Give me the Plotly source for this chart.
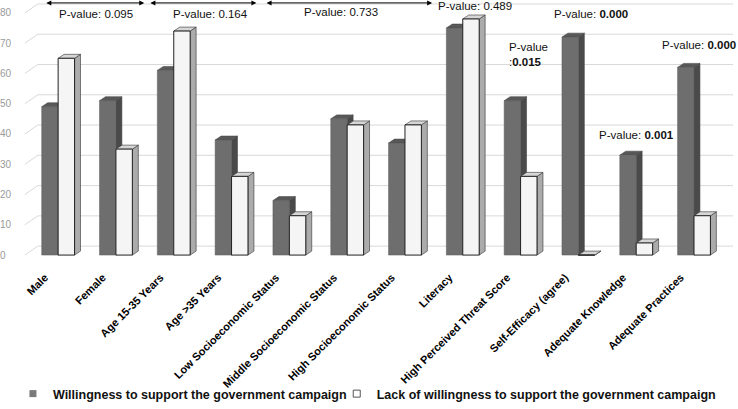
import plotly.graph_objects as go

categories = ["Male", "Female", "Age 15-35 Years", "Age >35 Years",
              "Low Socioeconomic Status", "Middle Socioeconomic Status",
              "High Socioeconomic Status", "Literacy", "High Perceived Threat Score",
              "Self-Efficacy (agree)", "Adequate Knowledge", "Adequate Practices"]
willing = [49, 51, 61, 38, 18, 45, 37, 75, 51, 72, 33, 62]
lack = [65, 35, 74, 26, 13, 43, 43, 78, 26, 0, 4, 13]
y_ticks = [0, 10, 20, 30, 40, 50, 60, 70, 80]

name_w = "Willingness to support the government campaign"
name_l = "Lack of willingness to support the government campaign"

W, H = 738, 409
PX_X = 58.2          # pixels per category
PX_Y = 3.05          # pixels per unit
X0 = -53.5 / PX_X
X1 = X0 + W / PX_X
PLOT_B = 266
Y0 = -(PLOT_B - 257) / PX_Y
Y1 = 257 / PX_Y
BW = 0.284
DX = 6 / PX_X        # depth offset (x)
DY = 4 / PX_Y        # depth offset (y)

x = list(range(len(categories)))
font_fam = "Liberation Sans, Arial, sans-serif"

fig = go.Figure()
fig.add_trace(go.Bar(x=x, y=willing, name=name_w, offset=-BW, width=BW, showlegend=False,
                     marker=dict(color="#6e6e6e", line=dict(color="#5a5a5a", width=0.5))))
fig.add_trace(go.Bar(x=x, y=lack, name=name_l, offset=0, width=BW, showlegend=False,
                     marker=dict(color="#f5f5f5", line=dict(color="#222222", width=1))))
# legend entries with small square keys
fig.add_trace(go.Scatter(x=[None], y=[None], mode="markers", name=name_w, legend="legend",
                         marker=dict(symbol="square", size=7, color="#7a7a7a",
                                     line=dict(color="#7a7a7a", width=0))))
fig.add_trace(go.Scatter(x=[None], y=[None], mode="markers", name=name_l, legend="legend2",
                         marker=dict(symbol="square", size=7, color="#ffffff",
                                     line=dict(color="#555555", width=1))))

shapes = []
gdx_a = 20 / PX_X + X0
gdx_b = 33 / PX_X + X0
gdx_c = 733 / PX_X + X0
for v in y_ticks:
    yb = v + 9 / PX_Y
    shapes.append(dict(type="path", xref="x", yref="y",
                       path=f"M {gdx_a},{v} L {gdx_b},{yb} L {gdx_c},{yb}",
                       line=dict(color="#d9d9d9", width=1), layer="below"))


def prism(xl, xr, v, side, top, edge):
    s = []
    s.append(dict(type="path", xref="x", yref="y",
                  path=f"M {xr},0 L {xr+DX},{DY} L {xr+DX},{v+DY} L {xr},{v} Z",
                  fillcolor=side, line=dict(color=edge, width=0.6), layer="below"))
    s.append(dict(type="path", xref="x", yref="y",
                  path=f"M {xl},{v} L {xl+DX},{v+DY} L {xr+DX},{v+DY} L {xr},{v} Z",
                  fillcolor=top, line=dict(color=edge, width=0.6), layer="below"))
    return s


for i, v in enumerate(willing):
    shapes += prism(i - BW, i, v, "#4a4a4a", "#585858", "#4a4a4a")
for i, v in enumerate(lack):
    shapes += prism(i, i + BW, v, "#ababab", "#d6d6d6", "#333333")

annotations = []
arrow_spans = [(-0.23, 1.49), (1.57, 3.43), (3.58, 6.47)]
for a, b in arrow_spans:
    annotations.append(dict(x=b, y=83.3, ax=a, ay=83.3, xref="x", yref="y",
                            axref="x", ayref="y", text="", showarrow=True,
                            arrowhead=2, arrowside="end+start", arrowsize=1,
                            arrowwidth=1, arrowcolor="#000000"))

pfont = dict(family=font_fam, size=11.5, color="#111111")
p_texts = [
    (0.66, 79.7, "P-value: 0.095", "center"),
    (2.64, 79.7, "P-value: 0.164", "center"),
    (4.9, 80.3, "P-value: 0.733", "center"),
    (7.21, 82.3, "P-value: 0.489", "center"),
    (9.22, 79.7, "P-value: <b>0.000</b>", "center"),
    (7.76, 66.2, "P-value<br>:<b>0.015</b>", "left"),
    (10.01, 39.7, "P-value: <b>0.001</b>", "center"),
]
for px, py, t, anc in p_texts:
    annotations.append(dict(x=px, y=py, xref="x", yref="y", text=t, showarrow=False,
                            xanchor=anc, yanchor="middle", align="left", font=pfont))
annotations.append(dict(x=1, y=69.5, xref="paper", yref="y", text="P-value: <b>0.000</b>",
                        showarrow=False, xanchor="right", yanchor="middle", font=pfont))

legend_font = dict(family=font_fam, size=12.5, color="#111111", weight="bold")
leg_y = -(397 - PLOT_B) / PLOT_B

fig.update_layout(
    width=W, height=H,
    margin=dict(l=0, r=0, t=0, b=H - PLOT_B, pad=0),
    paper_bgcolor="white", plot_bgcolor="white",
    barmode="overlay",
    showlegend=True,
    legend=dict(orientation="h", x=8 / W, xanchor="left", y=leg_y, yanchor="middle",
                font=legend_font, itemwidth=30, bgcolor="rgba(0,0,0,0)"),
    legend2=dict(orientation="h", x=334 / W, xanchor="left", y=leg_y, yanchor="middle",
                 font=legend_font, itemwidth=30, bgcolor="rgba(0,0,0,0)"),
    xaxis=dict(range=[X0, X1], tickmode="array", tickvals=[i - 0.23 for i in x],
               ticktext=categories, tickangle=-45, showgrid=False, zeroline=False,
               showline=False, ticks="", ticklabelstandoff=4,
               tickfont=dict(family=font_fam, size=11, color="#000000", weight="bold")),
    yaxis=dict(range=[Y0, Y1], tickmode="array", tickvals=y_ticks,
               showgrid=False, zeroline=False, showline=False, ticks="",
               ticklabelposition="inside", ticklabelstandoff=-8, ticklabelshift=0,
               tickfont=dict(family=font_fam, size=10, color="#9a9a9a")),
    shapes=shapes,
    annotations=annotations,
)

fig.write_html("out.html", config={"displayModeBar": False},
               post_script="document.body.style.margin='0';document.body.style.overflow='hidden';")
